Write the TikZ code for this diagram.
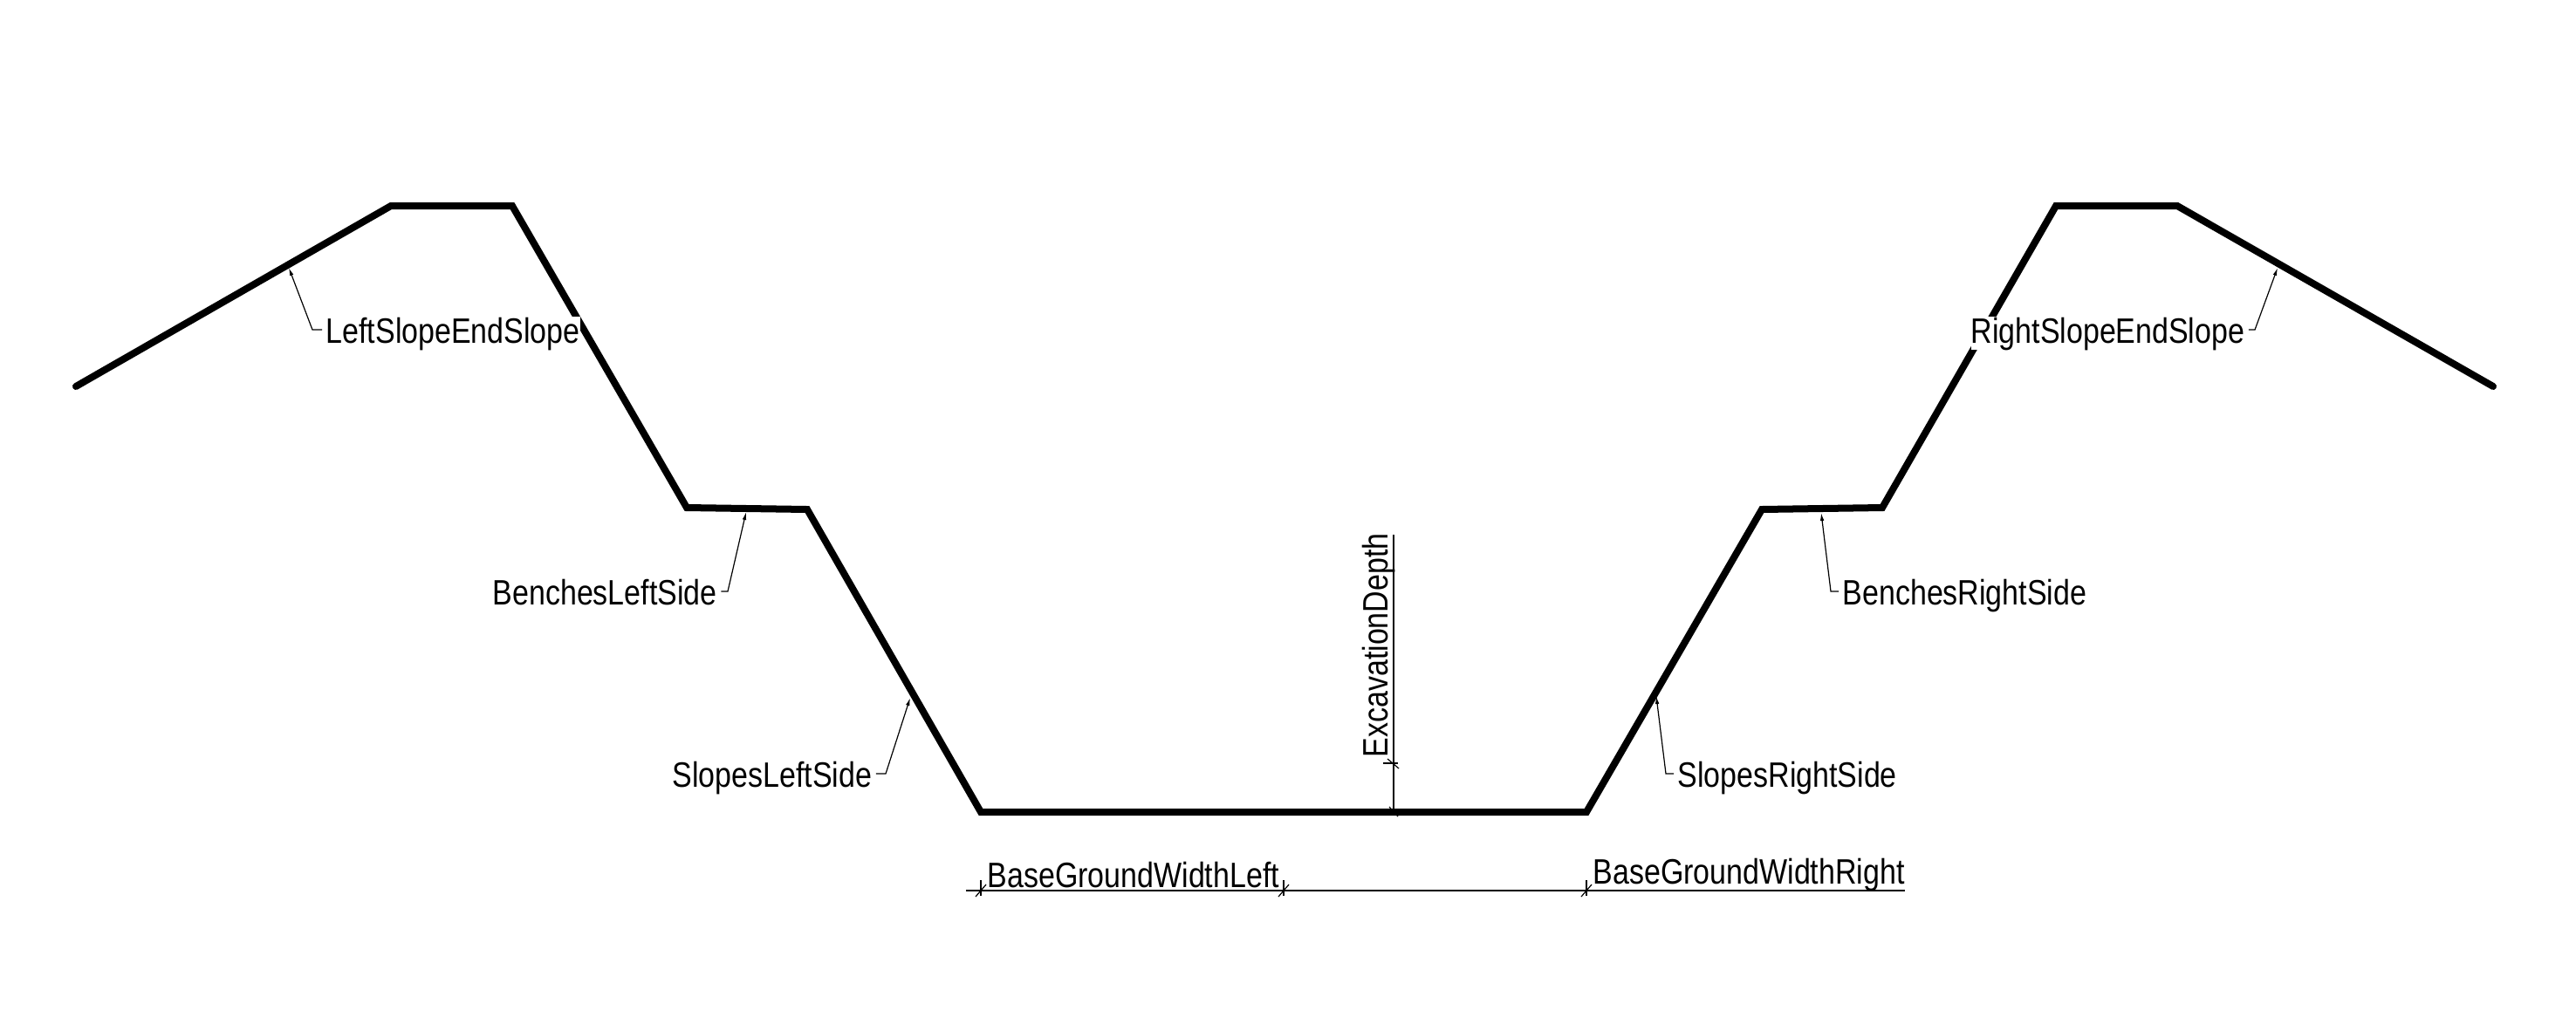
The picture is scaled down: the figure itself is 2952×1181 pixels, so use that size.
\documentclass[tikz,border=0pt]{standalone}
\usepackage{fontspec}
\usetikzlibrary{arrows.meta}
\setmainfont[FakeStretch=0.84]{Liberation Sans}
\begin{document}
\begin{tikzpicture}
			[x=0.01cm,y=-0.01cm,>={Latex[length=0.09cm,width=0.045cm]},
			label/.style={fill=white,font=\fontsize{11.5pt}{11.5pt}\selectfont,inner xsep=0pt,inner ysep=0pt,text height=0.30cm,text depth=0.08cm,anchor=base west},
			ground/.style={line width=0.08cm,line cap=round},
			dim/.style={line width=0.02cm},
			leader/.style={line width=0.012cm,shorten <=0.04cm},
			tick/.style={line width=0.012cm}]
			\useasboundingbox (0,0) rectangle (2952,1181);
			% ground profile
			\coordinate (p1) at (87,443);
			\coordinate (p2) at (448,236);
			\coordinate (p3) at (587,236);
			\coordinate (p4) at (787,582);
			\coordinate (p5) at (925,584);
			\coordinate (p6) at (1124,931);
			\coordinate (p7) at (1818,931);
			\coordinate (p8) at (2019,584);
			\coordinate (p9) at (2157,582);
			\coordinate (p10) at (2356,236);
			\coordinate (p11) at (2495,236);
			\coordinate (p12) at (2857,443);
			\draw[ground] (p1)--(p2)--(p3)--(p4)--(p5)--(p6)--(p7)--(p8)--(p9)--(p10)--(p11)--(p12);
			% labels
			\node[label,name=leftEnd] at (373,393) {LeftSlopeEndSlope};
			\node[label,name=benchLeft] at (564,693) {BenchesLeftSide};
			\node[label,name=slopeLeft] at (770,902) {SlopesLeftSide};
			\node[label,name=rightEnd] at (2258,393) {RightSlopeEndSlope};
			\node[label,name=benchRight] at (2111,693) {BenchesRightSide};
			\node[label,name=slopeRight] at (1922,902) {SlopesRightSide};
			\node[label,name=widthLeft] at (1131,1017) {BaseGroundWidthLeft};
			\node[label,name=widthRight] at (1825,1013) {BaseGroundWidthRight};
			\node[label,name=depth,rotate=90] at (1590,869) {ExcavationDepth};
			% leaders
			\draw[leader,->] ([yshift=0.04cm]leftEnd.west)--(358,378)--(331,307);
			\draw[leader,->] ([yshift=0.04cm]benchLeft.east)--(834,678)--(855,587);
			\draw[leader,->] ([yshift=0.04cm]slopeLeft.east)--(1015,887)--(1043,800);
			\draw[leader,->] ([yshift=0.04cm]rightEnd.east)--(2584,378)--(2610,307);
			\draw[leader,->] ([yshift=0.04cm]benchRight.west)--(2098,678)--(2087,588);
			\draw[leader,->] ([yshift=0.04cm]slopeRight.west)--(1909,887)--(1898,798);
			% dimension lines
			\coordinate (dimStart) at (1107,1021);
			\coordinate (dimEnd) at (2183,1021);
			\draw[dim] (dimStart)--(dimEnd);
			\foreach \tickx in {1124,1471,1818}{
				\draw[tick] (\tickx,1009)--(\tickx,1027);
				\draw[tick] (\tickx-6,1028)--(\tickx+6,1014);
			}
			\coordinate (depthTop) at (1597,613);
			\coordinate (depthBase) at (1597,933);
			\draw[dim] (depthTop)--(depthBase);
			\draw[tick] (1585,875)--(1602,875);
			\draw[tick] (1590,870)--(1603,881);
			\draw[tick] (1592,925)--(1602,936);
		\end{tikzpicture}
\end{document}
